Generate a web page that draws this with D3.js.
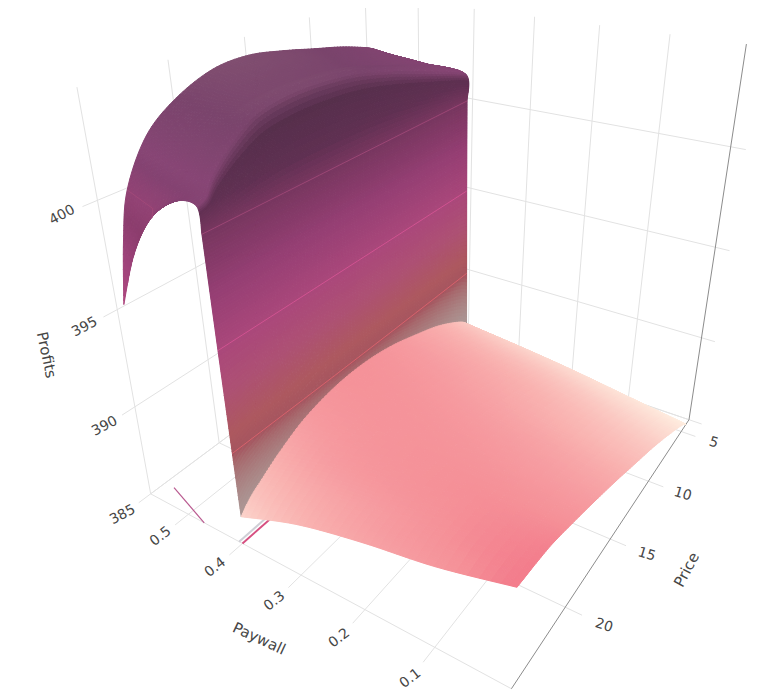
<!DOCTYPE html><html><head><meta charset="utf-8"><style>html,body{margin:0;background:#fff}svg{display:block}text{font-family:"DejaVu Sans",sans-serif;fill:#464646}</style></head><body><script src="https://cdn.jsdelivr.net/npm/d3@7"></script><script>
const paywallTicks=[0.1,0.2,0.3,0.4,0.5];
const priceTicks=[5,10,15,20];
const profitTicks=[385,390,395,400];
const contourLevels=[390,395,400];
const priceValues=[4.2,5,7.5,10,12.5,15,17.5,20,22,23.5,24.3,25];
const paywallRows=[
[0,.1,.2,.3,.396,.4,.402,.405,.47,.5,.535,.57],
[0,.1,.2,.3,.396,.4,.402,.415,.47,.5,.535,.57],
[0,.1,.2,.3,.396,.4,.402,.43,.47,.5,.535,.57],
[0,.1,.2,.3,.396,.4,.402,.44,.47,.5,.535,.57],
[0,.1,.2,.3,.396,.4,.402,.445,.47,.5,.535,.57],
[0,.1,.2,.3,.396,.4,.402,.445,.47,.5,.535,.57],
[0,.1,.2,.3,.396,.4,.402,.44,.47,.5,.535,.57],
[0,.1,.2,.3,.396,.4,.402,.435,.47,.5,.535,.57],
[0,.1,.2,.3,.396,.4,.402,.425,.465,.5,.535,.57],
[0,.1,.2,.3,.396,.4,.402,.418,.452,.5,.535,.57],
[0,.1,.2,.3,.396,.4,.402,.41,.442,.49,.53,.565],
[0,.1,.2,.3,.396,.4,.402,.405,.44,.485,.525,.56]];
const profitRows=[
[385,385.5,386,386.4,386.7,395,400,401.4,401.55,401.62,401.7,401.8],
[385.4,385.9,386.4,386.8,387.2,395,400,401.6,401.8,401.9,402,402.15],
[386.25,386.8,387.3,387.7,388.1,395,400,402.1,402.3,402.4,402.55,402.7],
[387,387.5,388,388.4,388.7,395,400,402.6,402.7,402.8,402.95,403.1],
[387.65,388.05,388.5,388.9,389.2,395,400,403,403.1,403.2,403.4,403.5],
[388.3,388.65,388.95,389.25,389.45,395,400,403.2,403.3,403.4,403.6,403.8],
[388.9,389.1,389.3,389.4,389.4,395,400,403.3,403.4,403.45,403.6,403.7],
[389.45,389.5,389.45,389.3,389,395,400,403.1,403.2,403.15,403.1,403],
[389.85,389.6,389.35,389,388.3,395,400,402.5,402.6,402.4,402.2,401.9],
[390,389.55,389,388.4,387.6,395,400,401.7,401.6,401.2,400.7,400],
[390.05,389.4,388.85,388.1,387.2,395,400,401.2,401,400.3,399.2,398],
[390.1,389.2,388.6,387.8,386.6,395,400,401.1,401,399.9,398,395.4]];
const streakA={paywall:[.557,.47],price:[24,25]};
const streakB={paywall:[.4,.4],price:[25,22.7]};
const colorDomain=[385,386.5,388,389,389.5,390,391,393,395,397.5,400,401,403,403.8];
const colorRange=["#fff2e4","#fcd6cd","#f9b2b0","#f69ba0","#f59198","#f37d8c","#ff828c","#ff76aa","#fa69b4","#dc5caa","#b0508c","#8c4678","#7a446c","#804e70"];

const W=757,H=693,aMax=.575,pMin=3.7,pMax=25,zMin=385,zTop=404.6;
// camera fitted to the reference's box
const cam=[[-37.14181,-73.31242,-19.63572,709.69489],[-6.51038,14.75351,-93.14439,388.35238],[.03287,-.06581,-.04497,1]];
const sa=d3.scaleLinear().domain([0,1]).range([0,10]),sp=d3.scaleLinear().domain([0,5]).range([0,1]),sz=d3.scaleLinear().domain([385,390]).range([0,1]);
function proj(a,p,z){const X=[sa(a),sp(p),sz(z),1],h=cam.map(r=>d3.sum(r,(v,i)=>v*X[i]));return [h[0]/h[2],h[1]/h[2],h[2]];}
const color=d3.scaleLinear().domain(colorDomain).range(colorRange).interpolate(d3.interpolateRgb).clamp(true);
const foldShade=d3.scaleLinear().domain([399,401.5]).range([.72,1]).clamp(true);
const svg=d3.select("body").append("svg").attr("width",W).attr("height",H).attr("viewBox",[0,0,W,H]);
svg.append("defs").append("clipPath").attr("id","top").append("rect").attr("x",0).attr("y",8).attr("width",W).attr("height",H);
const lineG=d3.line();
function seg(g,pts,st="#e2e2e2",w=1){g.append("path").attr("d",lineG(pts.map(q=>proj(...q).slice(0,2)))).attr("fill","none").attr("stroke",st).attr("stroke-width",w);}
const grid=svg.append("g").attr("clip-path","url(#top)");
paywallTicks.forEach(a=>seg(grid,[[a,pMin,zMin],[a,pMax+.9,zMin]]));
priceTicks.forEach(p=>seg(grid,[[aMax,p,zMin],[-.022,p,zMin]]));
seg(grid,[[aMax,pMax,zMin],[0,pMax,zMin]]);
seg(grid,[[aMax,pMax,zMin],[aMax,pMin,zMin]]);
seg(grid,[[aMax,pMin,zMin],[0,pMin,zMin]]);
profitTicks.forEach(z=>{seg(grid,[[aMax,pMax+.8,z],[aMax,pMin,z]]);seg(grid,[[aMax,pMin,z],[-.02,pMin,z]]);});
priceTicks.forEach(p=>seg(grid,[[aMax,p,zMin],[aMax,p,zTop]]));
paywallTicks.forEach(a=>seg(grid,[[a,pMin,zMin],[a,pMin,zTop]]));
seg(grid,[[aMax,pMax,zMin],[aMax,pMax,zTop]]);
seg(grid,[[0,pMin,zMin],[0,pMin,zTop]],"#8c8c8c");
seg(grid,[[0,pMax,zMin],[0,pMin,zMin]],"#8c8c8c");
seg(grid,streakA.paywall.map((a,i)=>[a,streakA.price[i],zMin]),"#b9598f",1.2);
seg(grid,streakB.paywall.map((a,i)=>[a+.006,streakB.price[i],zMin]),"#cfcfd6",2);
seg(grid,streakB.paywall.map((a,i)=>[a,streakB.price[i],zMin]),"#d64f80",2);

// surface
const nR=priceValues.length,nC=profitRows[0].length,NR=10;
const clampI=(i,n)=>Math.max(0,Math.min(n-1,i));
const cr=(a,b,c,d,t)=>.5*(2*b+(c-a)*t+(2*a-5*b+4*c-d)*t*t+(3*b-a-3*c+d)*t*t*t);
function alongRows(m,i,j,r){return cr(m[clampI(i-1,nR)][j],m[i][j],m[i+1][j],m[clampI(i+2,nR)][j],r);}
function sample(m,i,j,r,c){
 const v=k=>alongRows(m,i,clampI(k,nC),r);
 if(j>=6) return cr(j===6?v(6):v(j-1),v(j),v(j+1),v(j+2),c);
 if(j<4) return cr(v(Math.max(j-1,0)),v(j),v(j+1),v(Math.min(j+2,4)),c);
 return v(j)*(1-c)+v(j+1)*c;}
const priceM=priceValues.map(p=>Array(nC).fill(p));
const quads=[];
const colN=j=>(j===4||j===5)?36:j===6?16:8;
for(let i=0;i<nR-1;i++)for(let j=0;j<nC-1;j++){const NC=colN(j);for(let s=0;s<NR;s++)for(let t=0;t<NC;t++){
 const at=(ss,tt)=>{const r=(s+ss)/NR,c=(t+tt)/NC;return proj(sample(paywallRows,i,j,r,c),sample(priceM,i,j,r,c),sample(profitRows,i,j,r,c));};
 const cs=[at(0,0),at(1,0),at(1,1),at(0,1)],m=at(.5,.5);
 const r=(s+.5)/NR,c=(t+.5)/NC;
 const zv=sample(profitRows,i,j,r,c);
 let sh=1;
 if(j===4||j===5)sh=.68;
 if(j===6){const q=Math.max(0,(c-.72)/.28);sh=.68*(1-q)+q;}
 if(j>=7)sh=foldShade(zv);
 const col=d3.rgb(color(zv));
 let R=col.r*sh,G=col.g*sh,B=col.b*sh;
 if(j===4){const q=Math.max(0,Math.min(1,(390-zv)/3))*.7;R=R*(1-q)+172*q;G=G*(1-q)+155*q;B=B*(1-q)+155*q;}
 const fill=d3.rgb(R,G,B).formatHex();
 quads.push({d:lineG(cs.map(q=>q.slice(0,2)))+"Z",depth:m[2],fill});
}}
quads.sort((x,y)=>y.depth-x.depth);
svg.append("g").selectAll("path").data(quads).join("path").attr("d",q=>q.d).attr("fill",q=>q.fill).attr("stroke",q=>q.fill).attr("stroke-width",1).attr("stroke-linejoin","round");

// contours on the surface
const contourColors=["#e4646e","#d95596","#a44a79"];
contourLevels.forEach((L,k)=>{
 const up=[],down=[];
 priceValues.forEach((p,i)=>{const z=profitRows[i],a=paywallRows[i];
  for(let j=3;j<6;j++){if(z[j]<L&&z[j+1]>=L){const f=(L-z[j])/(z[j+1]-z[j]);up.push(proj(a[j]+f*(a[j+1]-a[j]),p,L).slice(0,2));break;}}
  for(let j=7;j<nC-1;j++){if(z[j]>L&&z[j+1]<=L){const f=(L-z[j])/(z[j+1]-z[j]);down.push(proj(a[j]+f*(a[j+1]-a[j]),p,L).slice(0,2));break;}}
 });
 [up,down].forEach(l=>{if(l.length>1)svg.append("path").attr("d",lineG(l)).attr("fill","none").attr("stroke",contourColors[k]).attr("stroke-width",1).attr("opacity",.8);});
});

// labels
function label(pos,txt,rot,size){svg.append("text").attr("transform",`translate(${pos[0]},${pos[1]}) rotate(${rot})`).attr("text-anchor","middle").attr("dominant-baseline","middle").attr("font-size",size).text(txt);}
profitTicks.forEach(z=>label(proj(aMax,pMax+1.85,z),z,-28,14));
paywallTicks.forEach(a=>label(proj(a,pMax+1.85,zMin),a,-38,14));
priceTicks.forEach(p=>label(proj(-.05,p,zMin),p,17,14));
label([259,639],"Paywall",25,15);
label([687,570],"Price",-62,15);
label([46,355],"Profits",78,15);
</script></body></html>
